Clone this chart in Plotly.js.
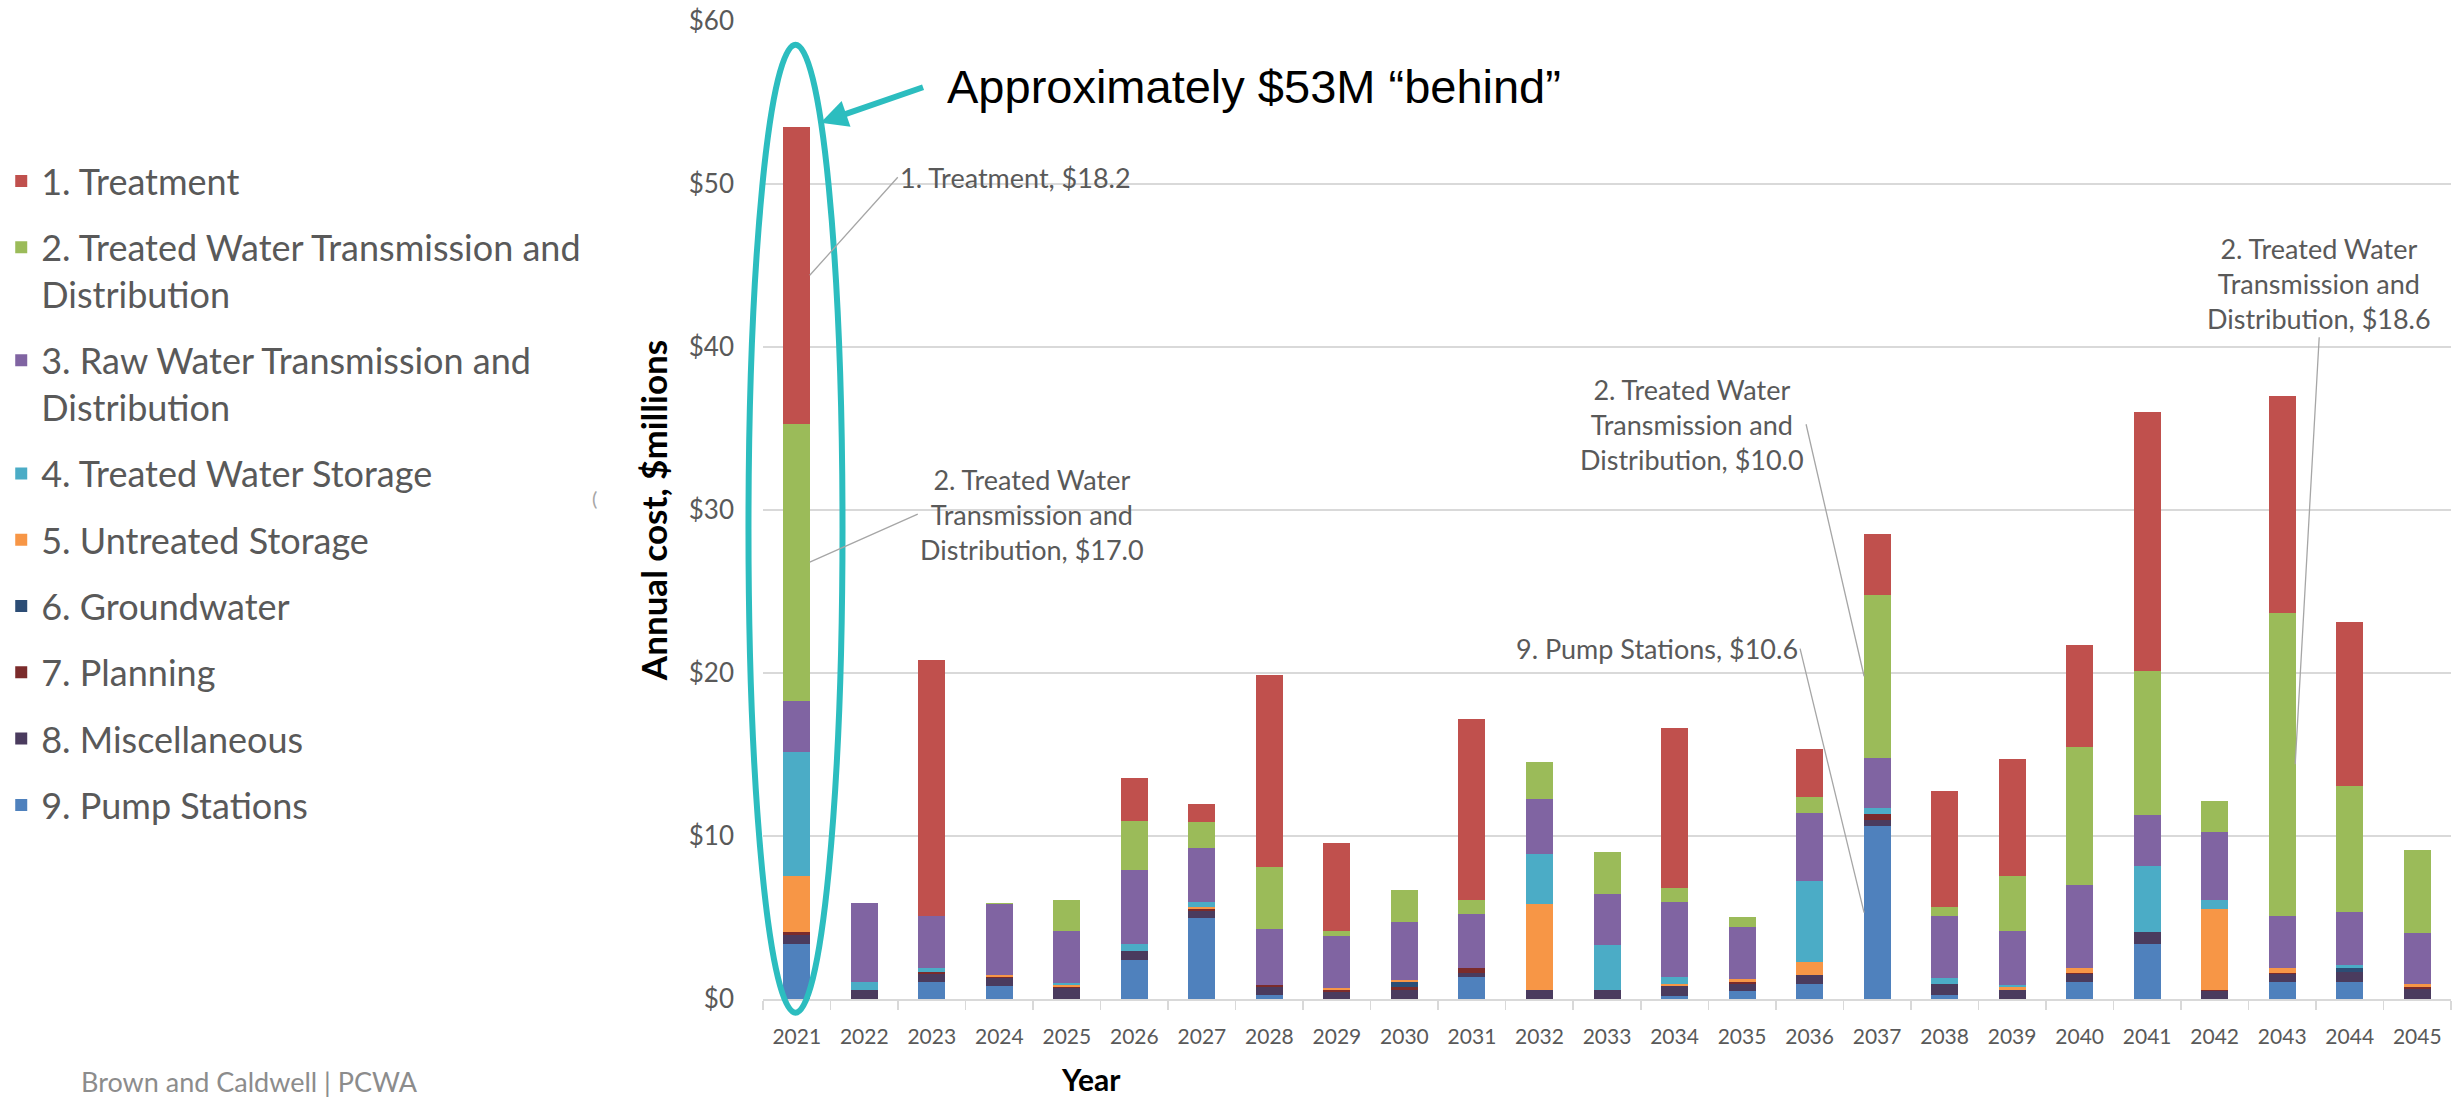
<!DOCTYPE html>
<html><head><meta charset="utf-8">
<script src="https://cdn.plot.ly/plotly-3.0.1.min.js"></script>
<style>html,body{margin:0;padding:0;background:#fff;} #chart{width:2464px;height:1098px;}</style>
</head><body><div id="chart"></div>
<script>
const years = ['2021','2022','2023','2024','2025','2026','2027','2028','2029','2030','2031','2032','2033','2034','2035','2036','2037','2038','2039','2040','2041','2042','2043','2044','2045'];

const treatment        = [18.2, 0, 15.73, 0, 0, 2.6, 1.12, 11.78, 5.4, 0, 11.12, 0, 0, 9.82, 0, 2.92, 3.73, 7.08, 7.2, 6.24, 15.85, 0, 13.33, 10.02, 0];
const treatedTD        = [17.0, 0, 0, 0.06, 1.92, 3.05, 1.57, 3.84, 0.33, 1.94, 0.88, 2.27, 2.6, 0.82, 0.67, 1.02, 10.0, 0.59, 3.39, 8.47, 8.88, 1.92, 18.6, 7.77, 5.09];
const rawTD            = [3.17, 4.83, 3.17, 4.34, 3.19, 4.5, 3.31, 3.4, 3.17, 3.54, 3.3, 3.37, 3.13, 4.58, 3.15, 4.17, 3.05, 3.8, 3.29, 5.11, 3.13, 4.15, 3.17, 3.25, 3.13];
const treatedStorage   = [7.56, 0.47, 0.25, 0, 0.1, 0.43, 0.33, 0, 0, 0, 0, 3.05, 2.72, 0.47, 0, 4.97, 0.37, 0.35, 0.15, 0, 4.05, 0.57, 0, 0.14, 0];
const untreatedStorage = [3.48, 0, 0, 0.14, 0.14, 0, 0.1, 0, 0.14, 0.14, 0, 5.28, 0, 0.14, 0.22, 0.8, 0, 0, 0.15, 0.29, 0, 4.95, 0.29, 0, 0.18];
const groundwater      = [0, 0, 0, 0, 0, 0, 0, 0, 0, 0.3, 0, 0, 0, 0, 0, 0, 0, 0, 0, 0, 0, 0, 0, 0.27, 0];
const planning         = [0.14, 0, 0.13, 0.05, 0.08, 0, 0.15, 0.13, 0.08, 0.2, 0.28, 0, 0, 0, 0.08, 0, 0.35, 0, 0, 0.08, 0, 0.07, 0.1, 0, 0.12];
const miscellaneous    = [0.56, 0.57, 0.5, 0.5, 0.65, 0.55, 0.4, 0.5, 0.45, 0.55, 0.25, 0.57, 0.57, 0.61, 0.45, 0.53, 0.4, 0.67, 0.57, 0.47, 0.7, 0.5, 0.47, 0.61, 0.61];
const pumpStations     = [3.39, 0, 1.02, 0.78, 0, 2.41, 4.97, 0.25, 0, 0, 1.37, 0, 0, 0.16, 0.49, 0.92, 10.6, 0.25, 0, 1.04, 3.39, 0, 1.04, 1.04, 0];

const seriesNames = [
  '1. Treatment',
  '2. Treated Water Transmission and<br>Distribution',
  '3. Raw Water Transmission and<br>Distribution',
  '4. Treated Water Storage',
  '5. Untreated Storage',
  '6. Groundwater',
  '7. Planning',
  '8. Miscellaneous',
  '9. Pump Stations'
];
const seriesValues = [treatment, treatedTD, rawTD, treatedStorage, untreatedStorage, groundwater, planning, miscellaneous, pumpStations];
const seriesColors = ['#C0504D', '#9BBB59', '#8064A2', '#4BACC6', '#F79646', '#2C4D75', '#7B2B2B', '#4A3B5E', '#4F81BD'];

const yTickVals = [0, 10, 20, 30, 40, 50, 60];
const yTickText = ['$0', '$10', '$20', '$30', '$40', '$50', '$60'];

// stack from bottom (9) to top (1); legend lists 1 on top via legendrank
const traces = [];
for (let i = seriesNames.length - 1; i >= 0; i--) {
  traces.push({
    type: 'bar',
    name: seriesNames[i],
    x: years,
    y: seriesValues[i],
    legendgroup: 'g' + i,
    legendrank: i + 1,
    marker: {color: seriesColors[i], line: {width: 0}},
    hoverinfo: 'skip'
  });
}

const idx = y => years.indexOf(y);
const labelFont = {family: 'Lato, sans-serif', size: 27, color: '#595959'};
const leader = {showarrow: true, arrowhead: 0, arrowwidth: 1.3, arrowcolor: '#A6A6A6', standoff: 0, startstandoff: 0};
const teal = '#2CBDBF';

const layout = {
  width: 2464, height: 1098,
  margin: {l: 763, r: 13, t: 21, b: 99, pad: 0},
  paper_bgcolor: '#FFFFFF', plot_bgcolor: '#FFFFFF',
  font: {family: 'Lato, sans-serif', color: '#595959'},
  barmode: 'stack',
  bargap: 0.6,
  showlegend: true,
  legend: {
    xref: 'container', yref: 'container', x: 0.0005, y: 0.8625, xanchor: 'left', yanchor: 'top',
    traceorder: 'grouped', tracegroupgap: 16.5, valign: 'top', maxheight: 1,
    font: {family: 'Lato, sans-serif', size: 36, color: '#595959'},
    bgcolor: 'rgba(0,0,0,0)', itemclick: false, itemdoubleclick: false
  },
  xaxis: {
    type: 'category', range: [-0.5, 24.5], autorange: false,
    tickson: 'boundaries', ticks: 'outside', ticklen: 9, tickcolor: '#D9D9D9', tickwidth: 1.5,
    showline: true, linecolor: '#D9D9D9', linewidth: 1.5,
    showgrid: false, zeroline: false, tickangle: 0,
    tickfont: {family: 'Lato, sans-serif', size: 21, color: '#595959'},
    ticklabelstandoff: 18,
    fixedrange: true
  },
  yaxis: {
    range: [0, 60], autorange: false, tickmode: 'array', tickvals: yTickVals, ticktext: yTickText,
    showgrid: true, gridcolor: '#D9D9D9', gridwidth: 1.5,
    zeroline: false, showline: false, ticks: '',
    tickfont: {family: 'Lato, sans-serif', size: 26, color: '#595959'},
    ticklabelstandoff: 28,
    title: {text: 'Annual cost, $millions', font: {family: 'Lato, sans-serif', size: 35, color: '#000000', weight: 700}, standoff: 10},
    fixedrange: true
  },
  shapes: [
    {type: 'circle', xref: 'paper', yref: 'paper', x0: -0.0086, x1: 0.0471, y0: -0.014, y1: 0.9758,
     line: {color: teal, width: 6}, fillcolor: 'rgba(0,0,0,0)', layer: 'above'}
  ],
  annotations: [
    Object.assign({x: idx('2021'), y: 44.4, xref: 'x', yref: 'y', xshift: 13, ax: 88, ay: -98,
      xanchor: 'left', yanchor: 'middle', text: '1. Treatment, $18.2', font: labelFont}, leader),
    Object.assign({x: idx('2021'), y: 26.8, xref: 'x', yref: 'y', xshift: 13, ax: 108, ay: -48,
      xanchor: 'left', yanchor: 'middle', align: 'center',
      text: '2. Treated Water<br>Transmission and<br>Distribution, $17.0', font: labelFont}, leader),
    Object.assign({x: idx('2037'), y: 19.8, xref: 'x', yref: 'y', xshift: -13, ax: -58, ay: -252,
      xanchor: 'right', yanchor: 'middle', align: 'center',
      text: '2. Treated Water<br>Transmission and<br>Distribution, $10.0', font: labelFont}, leader),
    Object.assign({x: idx('2037'), y: 5.3, xref: 'x', yref: 'y', xshift: -13, ax: -64, ay: -264,
      xanchor: 'right', yanchor: 'middle', text: '9. Pump Stations, $10.6', font: labelFont}, leader),
    Object.assign({x: idx('2043'), y: 14.4, xref: 'x', yref: 'y', xshift: 13, ax: 24, ay: -427,
      xanchor: 'center', yanchor: 'bottom', align: 'center',
      text: '2. Treated Water<br>Transmission and<br>Distribution, $18.6', font: labelFont}, leader),
    {x: 0.0341, y: 0.896, xref: 'paper', yref: 'paper', ax: 104, ay: -36, text: '',
     showarrow: true, arrowhead: 2, arrowsize: 0.9, arrowwidth: 6, arrowcolor: teal, standoff: 0},
    {x: 0.1076, y: 0.9328, xref: 'paper', yref: 'paper', xanchor: 'left', yanchor: 'middle', showarrow: false,
     text: 'Approximately $53M \u201Cbehind\u201D', font: {family: 'Liberation Sans, Arial, sans-serif', size: 47, color: '#000000'}},
    {x: (1091 - 763) / 1688, y: (999 - 1079) / 978, xref: 'paper', yref: 'paper', xanchor: 'center', yanchor: 'middle', showarrow: false,
     text: 'Year', font: {family: 'Lato, sans-serif', size: 30, color: '#000000', weight: 700}},
    {x: (590 - 763) / 1688, y: (999 - 498) / 978, xref: 'paper', yref: 'paper', showarrow: false, text: '(',
     font: {family: 'Lato, sans-serif', size: 20, color: '#A6A6A6'}},
    {x: (79 - 763) / 1688, y: (999 - 1081) / 978, xref: 'paper', yref: 'paper', showarrow: false, text: 'Brown and Caldwell | PCWA',
     xanchor: 'left', yanchor: 'middle',
     font: {family: 'Lato, sans-serif', size: 27, color: '#8C8C8C'}}
  ]
};

Plotly.newPlot('chart', traces, layout, {staticPlot: true, displayModeBar: false});
</script>
</body></html>
